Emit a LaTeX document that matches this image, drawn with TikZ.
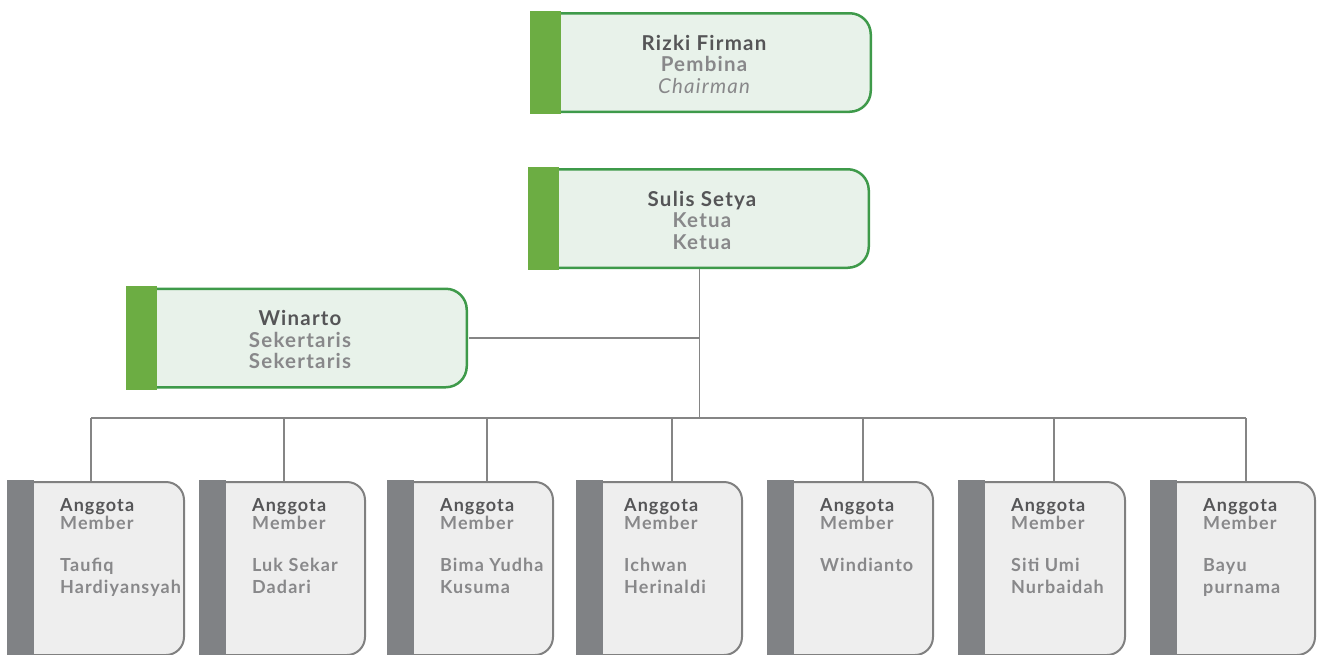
\documentclass[tikz,border=0pt]{standalone}
\usepackage{fontspec}
\setmainfont{Lato}[LetterSpace=6]
\usetikzlibrary{calc}
\definecolor{gbar}{HTML}{6CAD43}
\definecolor{gborder}{HTML}{3E9A4A}
\definecolor{gfill}{HTML}{E8F2EA}
\definecolor{mbar}{HTML}{808285}
\definecolor{mborder}{HTML}{808080}
\definecolor{mfill}{HTML}{EEEEEE}
\definecolor{darktext}{HTML}{555557}
\definecolor{softtext}{HTML}{88888A}
\definecolor{wire}{HTML}{858585}
\begin{document}
\begin{tikzpicture}[x=1pt,y=-1pt,
  leadbox/.style={rectangle, inner sep=0pt, minimum width=338.5pt, minimum height=98.5pt,
    fill=gfill, draw=gborder, line width=2.5pt, rounded corners=21pt},
  leadtext/.style={inner sep=0pt, align=center, text=softtext,
    font=\fontsize{20.5}{21.5}\selectfont\bfseries},
  memberbox/.style={rectangle, inner sep=0pt, minimum height=173pt,
    fill=mfill, draw=mborder, line width=2pt, rounded corners=18pt},
  membertext/.style={anchor=north west, inner sep=0pt, align=left, text=softtext,
    font=\fontsize{18}{18}\selectfont\bfseries},
  connector/.style={draw=wire, line width=1.3pt}]
\useasboundingbox (0,0) rectangle (1317,654);

% leadership boxes, each with its coloured side bar and a three-line label
\foreach \b/\cx/\cy in {pembina/701.5/62.5, ketua/699.5/218.5, sekertaris/297.5/338}{
  \node[leadbox] (\b) at (\cx,\cy) {};
  \fill[gbar] ($(\b.north west)+(-1.25,-1.25)$) rectangle ($(\b.south west)+(30,1.25)$);
}
\node[leadtext] (pembina-label) at ($(pembina.center)+(2.5,1.5)$)
  {\textcolor{darktext}{Rizki Firman}\\Pembina\\\mdseries\itshape Chairman};
\node[leadtext] (ketua-label) at ($(ketua.center)+(2.5,1.5)$)
  {\textcolor{darktext}{Sulis Setya}\\Ketua\\Ketua};
\node[leadtext] (sekertaris-label) at ($(sekertaris.center)+(2.5,1.5)$)
  {\textcolor{darktext}{Winarto}\\Sekertaris\\Sekertaris};

% connectors
\coordinate (hub) at (ketua.south |- 0,418);
\coordinate (side) at (ketua.south |- sekertaris.east);
\draw[connector] (ketua.south) -- (hub);
\draw[connector] ($(sekertaris.east)+(1.25,0)$) -- (side);
\coordinate (busL) at (91,418);
\coordinate (busR) at (1246,418);
\draw[connector] (busL) -- (busR);

% member boxes
\foreach \n/\l/\r/\d/\tx/\na/\nb in {
  1/8/185/91/60/Taufiq/Hardiyansyah,
  2/200/366/284/252/Luk Sekar/Dadari,
  3/388/554/487/440/Bima Yudha/Kusuma,
  4/577/743/672/624/Ichwan/Herinaldi,
  5/768/934/863/820/Windianto/,
  6/959/1126/1054/1011/Siti Umi/Nurbaidah,
  7/1151/1316/1246/1203/Bayu/purnama}{
  \pgfmathsetmacro\w{\r-\l-2}
  \node[memberbox, minimum width=\w pt] (m\n) at ({(\l+\r)/2},568.5) {};
  \fill[mbar] ($(m\n.north west)+(-1,-1)$) rectangle ($(m\n.south west)+(26,1)$);
  \coordinate (drop\n) at (\d,418);
  \draw[connector] (drop\n) -- (drop\n |- m\n.north);
  \node[membertext] (t\n) at (\tx,498.5)
    {\textcolor{darktext}{Anggota}\\Member\\[24pt]\na\\[4pt]\nb};
}
\end{tikzpicture}
\end{document}
